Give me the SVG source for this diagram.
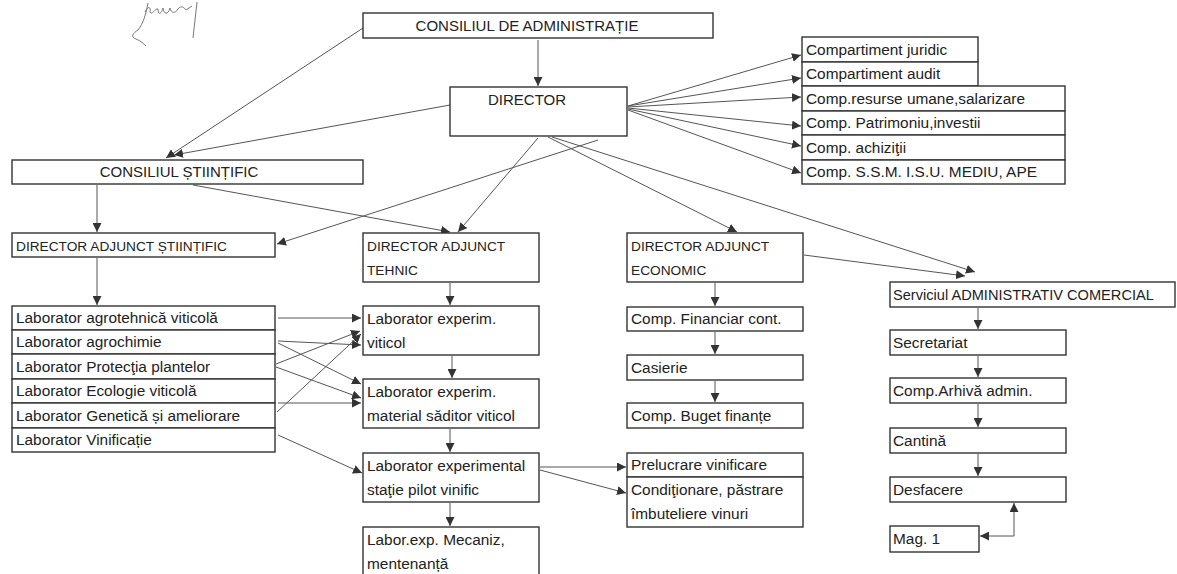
<svg xmlns="http://www.w3.org/2000/svg" width="1177" height="574" viewBox="0 0 1177 574">
<style>
.b{fill:#fff;stroke:#333;stroke-width:1.4}
.t{font-family:"Liberation Sans",Arial,sans-serif;font-size:15.4px;fill:#222}
.u{font-family:"Liberation Sans",Arial,sans-serif;font-size:13.7px;fill:#222}
.h{font-family:"Liberation Sans",Arial,sans-serif;font-size:15px;fill:#222}
.c line,.c polyline{stroke:#555;stroke-width:1;fill:none;marker-end:url(#a)}
</style>
<defs>
<marker id="a" viewBox="0 0 10 10" refX="10" refY="5" markerWidth="9" markerHeight="9" markerUnits="userSpaceOnUse" orient="auto-start-reverse">
<path d="M0,0L10,5L0,10z" fill="#333"/>
</marker>
</defs>
<rect width="1177" height="574" fill="#fff"/>
<path d="M148,3 C146,14 143,24 138,30 C133,33 130,37 136,39 C141,41 144,44 146,46 M145,12 C148,6 151,6 150,12 C152,16 155,8 158,9 C158,15 161,15 163,8 C164,15 168,15 170,8 C171,13 175,14 178,9 C180,6 183,6 186,10 L192,6 M197,2 L193,38" stroke="#777" stroke-width="1" fill="none"/>

<g class="c">
<line x1="538" y1="40" x2="538" y2="86"/>
<line x1="363" y1="28" x2="166" y2="158"/>
<line x1="450" y1="105" x2="174" y2="155"/>
<line x1="628" y1="106" x2="801" y2="55"/>
<line x1="628" y1="106" x2="801" y2="78"/>
<line x1="628" y1="107" x2="801" y2="97"/>
<line x1="628" y1="108" x2="801" y2="126"/>
<line x1="628" y1="109" x2="801" y2="146"/>
<line x1="628" y1="110" x2="801" y2="173"/>
<line x1="97" y1="185" x2="97" y2="232"/>
<line x1="193" y1="185" x2="450" y2="232"/>
<line x1="538" y1="138" x2="458" y2="232"/>
<line x1="598" y1="140" x2="277" y2="244"/>
<line x1="548" y1="137" x2="737" y2="232"/>
<line x1="552" y1="137" x2="975" y2="272"/>
<line x1="804" y1="255" x2="965" y2="276"/>
<line x1="97" y1="258" x2="97" y2="305"/>
<line x1="278" y1="318" x2="361" y2="318"/>
<line x1="278" y1="341" x2="361" y2="345"/>
<line x1="278" y1="343" x2="361" y2="384"/>
<line x1="276" y1="364" x2="360" y2="331"/>
<line x1="276" y1="367" x2="361" y2="398"/>
<line x1="278" y1="403" x2="361" y2="403"/>
<line x1="277" y1="412" x2="361" y2="334"/>
<line x1="278" y1="435" x2="362" y2="473"/>
<line x1="450" y1="283" x2="450" y2="305"/>
<line x1="452" y1="356" x2="452" y2="378"/>
<line x1="450" y1="429" x2="450" y2="452"/>
<line x1="450" y1="503" x2="450" y2="526"/>
<line x1="715" y1="283" x2="715" y2="306"/>
<line x1="715" y1="332" x2="715" y2="354"/>
<line x1="715" y1="381" x2="715" y2="402"/>
<line x1="540" y1="467" x2="626" y2="467"/>
<line x1="540" y1="470" x2="626" y2="493"/>
<line x1="978" y1="308" x2="978" y2="329"/>
<line x1="978" y1="356" x2="978" y2="377"/>
<line x1="978" y1="404" x2="978" y2="427"/>
<line x1="978" y1="454" x2="978" y2="476"/>
<polyline points="1014,503 1014,536 980,536" style="marker-start:url(#a)"/>
</g>

<g id="consiliul-admin"><rect class="b" x="363" y="13" width="350" height="25"/><text class="h" x="527" y="31" text-anchor="middle">CONSILIUL DE ADMINISTRAȚIE</text></g>
<g id="director"><rect class="b" x="450" y="87" width="177" height="49"/><text class="h" x="488" y="105">DIRECTOR</text></g>
<g id="consiliul-stiintific"><rect class="b" x="12" y="160" width="351" height="24"/><text class="h" x="179" y="177" text-anchor="middle">CONSILIUL ȘTIINȚIFIC</text></g>

<g id="comp-juridic"><rect class="b" x="802" y="37" width="176" height="25"/><text class="t" x="806" y="55">Compartiment juridic</text></g>
<g id="comp-audit"><rect class="b" x="802" y="62" width="176" height="24"/><text class="t" x="806" y="79">Compartiment audit</text></g>
<g id="comp-resurse"><rect class="b" x="802" y="86" width="263" height="25"/><text class="t" x="806" y="104">Comp.resurse umane,salarizare</text></g>
<g id="comp-patrimoniu"><rect class="b" x="802" y="111" width="263" height="24"/><text class="t" x="806" y="128">Comp. Patrimoniu,investii</text></g>
<g id="comp-achizitii"><rect class="b" x="802" y="135" width="263" height="25"/><text class="t" x="806" y="153">Comp. achiziţii</text></g>
<g id="comp-ssm"><rect class="b" x="802" y="160" width="263" height="24"/><text class="t" x="806" y="177">Comp. S.S.M. I.S.U. MEDIU, APE</text></g>

<g id="dir-adj-stiintific"><rect class="b" x="12" y="233" width="263" height="24"/><text class="u" x="16" y="251">DIRECTOR ADJUNCT ȘTIINȚIFIC</text></g>
<g id="lab-agrotehnica"><rect class="b" x="12" y="306" width="263" height="24"/><text class="t" x="16" y="323">Laborator agrotehnică viticolă</text></g>
<g id="lab-agrochimie"><rect class="b" x="12" y="330" width="263" height="24"/><text class="t" x="16" y="347">Laborator agrochimie</text></g>
<g id="lab-protectia"><rect class="b" x="12" y="354" width="263" height="25"/><text class="t" x="16" y="372">Laborator Protecţia plantelor</text></g>
<g id="lab-ecologie"><rect class="b" x="12" y="379" width="263" height="24"/><text class="t" x="16" y="396">Laborator  Ecologie viticolă</text></g>
<g id="lab-genetica"><rect class="b" x="12" y="403" width="263" height="25"/><text class="t" x="16" y="421">Laborator Genetică și ameliorare</text></g>
<g id="lab-vinificatie"><rect class="b" x="12" y="428" width="263" height="24"/><text class="t" x="16" y="445">Laborator  Vinificație</text></g>

<g id="dir-adj-tehnic"><rect class="b" x="363" y="233" width="176" height="49"/><text class="u" x="367" y="251">DIRECTOR ADJUNCT</text><text class="u" x="367" y="275">TEHNIC</text></g>
<g id="lab-exp-viticol"><rect class="b" x="363" y="306" width="176" height="49"/><text class="t" x="367" y="324">Laborator experim.</text><text class="t" x="367" y="348">viticol</text></g>
<g id="lab-exp-material"><rect class="b" x="363" y="379" width="176" height="49"/><text class="t" x="367" y="397">Laborator experim.</text><text class="t" x="367" y="421">material săditor viticol</text></g>
<g id="lab-exp-pilot"><rect class="b" x="363" y="453" width="176" height="49"/><text class="t" x="367" y="471">Laborator experimental</text><text class="t" x="367" y="495">staţie pilot vinific</text></g>
<g id="lab-exp-mecaniz"><rect class="b" x="363" y="527" width="176" height="60"/><text class="t" x="367" y="545">Labor.exp. Mecaniz,</text><text class="t" x="367" y="569">mentenanță</text></g>

<g id="dir-adj-economic"><rect class="b" x="627" y="233" width="176" height="49"/><text class="u" x="631" y="251">DIRECTOR ADJUNCT</text><text class="u" x="631" y="275">ECONOMIC</text></g>
<g id="comp-financiar"><rect class="b" x="627" y="307" width="176" height="24"/><text class="t" x="631" y="324">Comp. Financiar cont.</text></g>
<g id="casierie"><rect class="b" x="627" y="355" width="176" height="25"/><text class="t" x="631" y="373">Casierie</text></g>
<g id="comp-buget"><rect class="b" x="627" y="403" width="176" height="25"/><text class="t" x="631" y="421">Comp. Buget finanțe</text></g>
<g id="prelucrare"><rect class="b" x="627" y="453" width="176" height="24"/><text class="t" x="631" y="470">Prelucrare vinificare</text></g>
<g id="conditionare"><rect class="b" x="627" y="477" width="176" height="50"/><text class="t" x="631" y="495">Condiţionare, păstrare</text><text class="t" x="631" y="519">îmbuteliere vinuri</text></g>

<g id="serviciul-admin"><rect class="b" x="890" y="282" width="285" height="25"/><text class="t" x="893" y="300" style="font-size:14.6px">Serviciul ADMINISTRATIV COMERCIAL</text></g>
<g id="secretariat"><rect class="b" x="890" y="330" width="176" height="25"/><text class="t" x="893" y="348">Secretariat</text></g>
<g id="comp-arhiva"><rect class="b" x="890" y="378" width="176" height="25"/><text class="t" x="893" y="396">Comp.Arhivă admin.</text></g>
<g id="cantina"><rect class="b" x="890" y="428" width="176" height="25"/><text class="t" x="893" y="446">Cantină</text></g>
<g id="desfacere"><rect class="b" x="890" y="477" width="176" height="25"/><text class="t" x="893" y="495">Desfacere</text></g>
<g id="mag1"><rect class="b" x="890" y="526" width="89" height="26"/><text class="t" x="893" y="544">Mag. 1</text></g>
</svg>
